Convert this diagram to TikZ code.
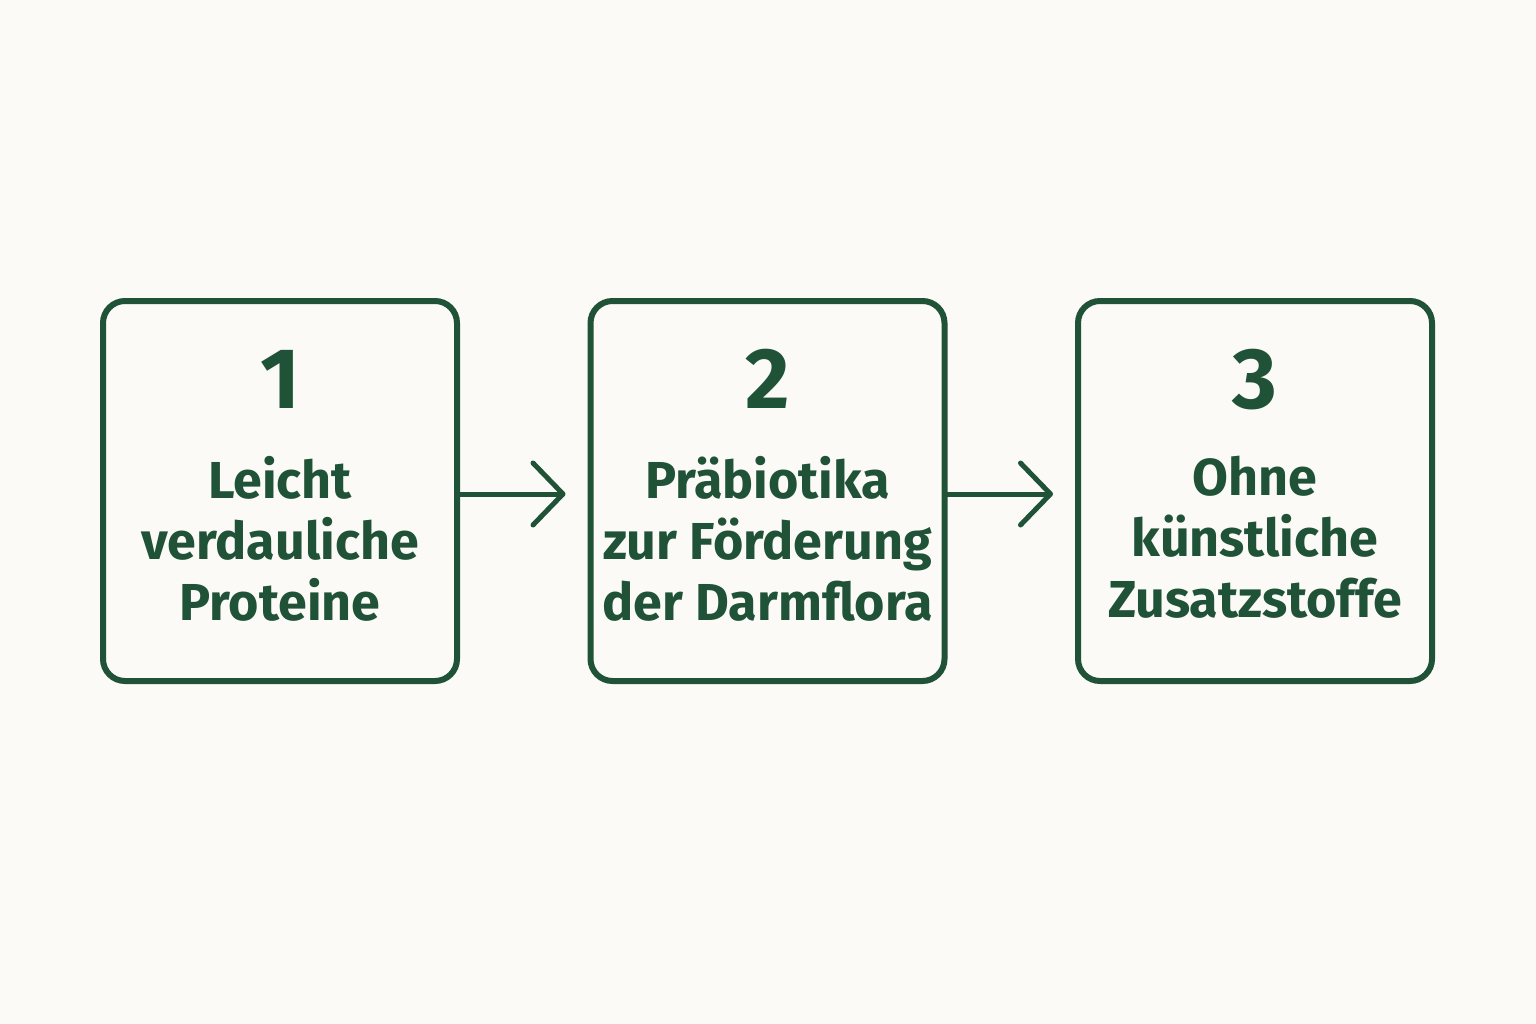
\documentclass[tikz,border=0pt]{standalone}
\usepackage{fontspec}
\setmainfont{Fira Sans}
\usetikzlibrary{arrows.meta}
\definecolor{dgreen}{HTML}{1F5237}
\definecolor{bgc}{HTML}{FBFAF6}
\begin{document}
\begin{tikzpicture}[x=1pt,y=-1pt,
  box/.style={draw=dgreen,line width=6pt,rounded corners=22pt,minimum width=354pt,minimum height=380pt,inner sep=0pt},
  num/.style={text=dgreen,font=\fontsize{86}{86}\selectfont\bfseries,anchor=base,inner sep=0pt},
  lbl/.style={text=dgreen,font=\fontsize{52}{61}\selectfont\bfseries,anchor=base,align=center,inner sep=0pt},
  conn/.style={draw=dgreen,line width=5pt,line cap=round,-{Straight Barb[length=30pt,width=62pt,line cap=round,line join=round]}}]
\fill[bgc] (0,0) rectangle (1536,1024);
\useasboundingbox (0,0) rectangle (1536,1024);
\node[box] (b1) at (280,491) {};
\node[box] (b2) at (767.5,491) {};
\node[box] (b3) at (1255,491) {};
\node[num] (n1) at (280,408) {1};
\node[num] (n2) at (767.5,408) {2};
\node[num] (n3) at (1255,408) {3};
\node[lbl,anchor=north] (t1) at (280,456) {Leicht\\verdauliche\\Proteine};
\node[lbl,anchor=north] (t2) at (767.5,456) {Präbiotika\\zur Förderung\\der Darmflora};
\node[lbl,anchor=north] (t3) at (1255,456) {Ohne\\künstliche\\Zusatzstoffe};
\coordinate (e1) at ([xshift=-22pt]b2.west);
\coordinate (e2) at ([xshift=-22pt]b3.west);
\draw[conn] (b1.east |- 0,494) -- (e1 |- 0,494);
\draw[conn] (b2.east |- 0,494) -- (e2 |- 0,494);
\end{tikzpicture}
\end{document}
